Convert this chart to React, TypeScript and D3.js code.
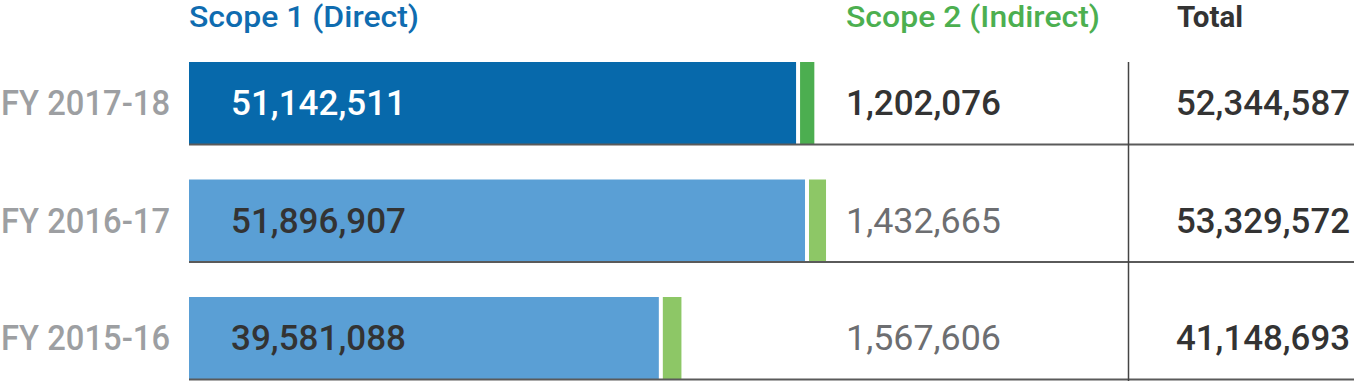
import React from "react";
import * as d3 from "d3";

const years = ["FY 2017-18", "FY 2016-17", "FY 2015-16"];
const scope1 = [51142511, 51896907, 39581088];
const scope2 = [1202076, 1432665, 1567606];
const totals = [52344587, 53329572, 41148693];
const headers = ["Scope 1 (Direct)", "Scope 2 (Indirect)", "Total"];

const W = 1354;
const H = 381;
const FONT = "Roboto, 'Open Sans', sans-serif";
const fmt = d3.format(",");

export default function App() {
  const x = d3.scaleLinear().domain([0, 60000000]).range([189, 189 + 60 * 11.87]);
  const y = d3.scaleBand<string>().domain(years).range([62, 62 + 3 * 117.5]).padding(0);
  const bh = 82;

  const blueCols = ["#0769ab", "#5a9fd5", "#5a9fd5"];
  const greenCols = ["#4cae50", "#8dc766", "#8dc766"];
  const inBarText = ["#ffffff", "#333333", "#333333"];
  const s2Text = ["#333333", "#6d6e71", "#6d6e71"];

  return (
    <svg width={W} height={H} style={{ position: "absolute", left: 0, top: 0, background: "#fff" }}>
      {/* headers */}
      <text x={189} y={27.3} fontFamily={FONT} fontWeight={500} fontSize={30} fill="#0f6cb0" textLength={230} lengthAdjust="spacingAndGlyphs">{headers[0]}</text>
      <text x={846} y={27.3} fontFamily={FONT} fontWeight={500} fontSize={30} fill="#4caf50" textLength={254} lengthAdjust="spacingAndGlyphs">{headers[1]}</text>
      <text x={1177} y={26.5} fontFamily={FONT} fontWeight={700} fontSize={30} fill="#333333" textLength={66} lengthAdjust="spacingAndGlyphs">{headers[2]}</text>

      {years.map((yr, i) => {
        const top = y(yr) as number;
        const bottom = top + bh;
        const base = top + bh / 2 + 12.3;
        const x1 = x(scope1[i]);
        const gx = x1 + 4;
        const gw = x(scope2[i]) - x(0);
        return (
          <g key={yr}>
            <rect x={x(0)} y={top} width={x1 - x(0)} height={bh} fill={blueCols[i]} />
            <rect x={gx} y={top} width={gw} height={bh} fill={greenCols[i]} />
            <line x1={x(0)} x2={W} y1={bottom + 0.5} y2={bottom + 0.5} stroke="#5a5a5a" strokeWidth={2} />
            <text x={170} y={base} textAnchor="end" fontFamily={FONT} fontWeight={500} fontSize={35} fill="#9d9fa2" textLength={169} lengthAdjust="spacingAndGlyphs">{yr}</text>
            <text x={231} y={base} fontFamily={FONT} fontWeight={500} fontSize={35} fill={inBarText[i]} textLength={175} lengthAdjust="spacingAndGlyphs">{fmt(scope1[i])}</text>
            <text x={846} y={base} fontFamily={FONT} fontWeight={i === 0 ? 500 : 400} fontSize={35} fill={s2Text[i]} textLength={155} lengthAdjust="spacingAndGlyphs">{fmt(scope2[i])}</text>
            <text x={1176} y={base} fontFamily={FONT} fontWeight={500} fontSize={35} fill="#333333" textLength={174} lengthAdjust="spacingAndGlyphs">{fmt(totals[i])}</text>
          </g>
        );
      })}
      <line x1={1128.5} x2={1128.5} y1={62} y2={H} stroke="#444444" strokeWidth={1.5} />
    </svg>
  );
}
